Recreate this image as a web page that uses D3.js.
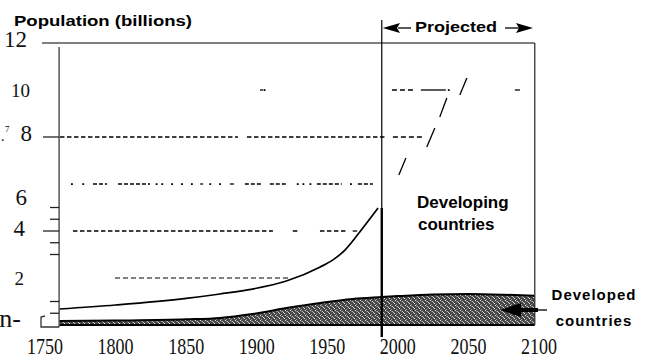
<!DOCTYPE html>
<html>
<head>
<meta charset="utf-8">
<script src="https://cdn.jsdelivr.net/npm/d3@7"></script>
<style>
  html, body { margin: 0; padding: 0; background: #fff; }
  svg { display: block; }
</style>
</head>
<body>
<div id="chart"></div>
<script>
// ---------------- data ----------------
const xTickYears = [1750, 1800, 1850, 1900, 1950, 2000, 2050, 2100];
const yTickValues = [0, 2, 4, 6, 8, 10, 12];
const yTickLabels = ["n-", "2", "4", "6", "8", "10", "12"];
const yMinorTicks = [0.5, 1, 3, 3.5, 4.5, 5];
const yMajorTicks = [4, 8];

// total population (developing + developed), historical part
const totalYears = [1760, 1800, 1850, 1874, 1897, 1921, 1945, 1954, 1962.5, 1973, 1986];
const totalValues = [0.68, 0.85, 1.13, 1.32, 1.53, 1.87, 2.47, 2.77, 3.19, 3.96, 4.98];

// developed countries (shaded band), historical + projected
const devYears = [1760, 1800, 1850, 1874, 1897, 1921, 1945, 1968, 1988.6, 2000, 2025, 2050, 2075, 2097];
const devValues = [0.17, 0.19, 0.24, 0.30, 0.47, 0.72, 0.94, 1.11, 1.19, 1.23, 1.30, 1.32, 1.29, 1.24];

const frameStartYear = 1760;
const projectionStartYear = 1988.6;
const frameEndYear = 2097;

// remnants of gridlines in the scan: [level, fromYear, toYear]
const fineDashFragments = [
  [8, 1760.6, 1886.7], [8, 1893.1, 1992.2],
  [4, 1769.8, 1911.5], [4, 1925.6, 1930.6], [4, 1944.8, 1963.9], [4, 1968, 1972]
];
const looseDashFragments = [[2, 1799.6, 1923.5]];
const coarseDashFragments = [
  [8, 1996.5, 2017.7], [10, 1995.8, 2011.3], [10, 2082.9, 2087.1], [10, 1902.3, 1904.5]
];
const solidFragments = [[10, 2016.3, 2034]];
const sixDashFragments = [
  [6, 1784, 1794], [6, 1801.7, 1824.4], [6, 1860, 1862], [6, 1881, 1884],
  [6, 1891.6, 1904.4], [6, 1909.3, 1922.1], [6, 1942.6, 1960.3], [6, 1971.7, 1982.3]
];
const dotMarks = [
  [6, 1769], [6, 1777], [6, 1829], [6, 1833], [6, 1840], [6, 1847], [6, 1854],
  [6, 1867], [6, 1874], [6, 1929], [6, 1933], [6, 1938], [6, 1966.7],
  [10, 2036], [10, 1905.5]
];
// slash-like strokes of the projected trace: [year0, value0, year1, value1]
const projectedTrace = [
  [2000.7, 6.38, 2005.7, 7.11],
  [2020.5, 7.57, 2026.2, 8.38],
  [2029.7, 8.85, 2034.7, 9.66],
  [2043.9, 9.79, 2048.9, 10.51]
];

// ---------------- layout ----------------
const W = 648, H = 360;
const x = d3.scaleLinear().domain([1750, 2100]).range([45, 539]);
const y = d3.scaleLinear().domain([0, 12]).range([325, 43]);
const labelNudge = {0: [-8, -7], 2: [-5, 0], 4: [-4, -3], 6: [-2, 13], 8: [3, -4], 10: [1, 0], 12: [-2, -4]};

const svg = d3.select("#chart").append("svg").attr("width", W).attr("height", H);
svg.append("rect").attr("width", W).attr("height", H).attr("fill", "#fff");

// halftone pattern
const defs = svg.append("defs");
const pat = defs.append("pattern").attr("id", "halftone")
  .attr("width", 5).attr("height", 5).attr("patternUnits", "userSpaceOnUse");
pat.append("rect").attr("width", 5).attr("height", 5).attr("fill", "#474747");
[[0,0,"#e0e0e0"],[2,1,"#bdbdbd"],[4,3,"#e8e8e8"],[1,4,"#9a9a9a"],[3,2,"#cfcfcf"],[1,1,"#777"]].forEach(p =>
  pat.append("rect").attr("x", p[0]).attr("y", p[1]).attr("width", 1).attr("height", 1).attr("fill", p[2]));

const serif = "'Liberation Serif', 'Times New Roman', serif";
const sans = "'Liberation Sans', Arial, Helvetica, sans-serif";

// developed band
const devData = devYears.map((d, i) => ({year: d, v: devValues[i]}));
const area = d3.area().x(d => x(d.year)).y0(y(0)).y1(d => y(d.v)).curve(d3.curveMonotoneX);
svg.append("path").datum(devData).attr("d", area).attr("fill", "url(#halftone)");
svg.append("path").datum(devData)
  .attr("d", d3.line().x(d => x(d.year)).y(d => y(d.v)).curve(d3.curveMonotoneX))
  .attr("fill", "none").attr("stroke", "#000").attr("stroke-width", 2);
svg.append("line").attr("x1", x(frameStartYear)).attr("x2", x(frameEndYear))
  .attr("y1", y(0)).attr("y2", y(0)).attr("stroke", "#000").attr("stroke-width", 2);

// total curve
const totData = totalYears.map((d, i) => ({year: d, v: totalValues[i]}));
svg.append("path").datum(totData)
  .attr("d", d3.line().x(d => x(d.year)).y(d => y(d.v)).curve(d3.curveMonotoneX))
  .attr("fill", "none").attr("stroke", "#000").attr("stroke-width", 1.7);

// gridline fragments
function frags(list, dash, width) {
  svg.append("g").selectAll("line").data(list).join("line")
    .attr("x1", d => x(d[1])).attr("x2", d => x(d[2]))
    .attr("y1", d => y(d[0])).attr("y2", d => y(d[0]))
    .attr("stroke", "#000").attr("stroke-width", width)
    .attr("stroke-dasharray", dash);
}
frags(fineDashFragments, "4.5 2.5", 1.3);
frags(looseDashFragments, "5 3", 1);
frags(coarseDashFragments, "5 3", 1.3);
frags(solidFragments, null, 1.3);
frags(sixDashFragments, "4 2", 1.3);
svg.append("g").selectAll("rect").data(dotMarks).join("rect")
  .attr("x", d => x(d[1]) - 0.8).attr("y", d => y(d[0]) - 0.8)
  .attr("width", 1.8).attr("height", 1.8).attr("fill", "#000");
svg.append("g").selectAll("line").data(projectedTrace).join("line")
  .attr("x1", d => x(d[0])).attr("y1", d => y(d[1]))
  .attr("x2", d => x(d[2])).attr("y2", d => y(d[3]))
  .attr("stroke", "#000").attr("stroke-width", 1.3);

// frame
svg.append("line").attr("x1", 42).attr("x2", x(frameEndYear))
  .attr("y1", y(12)).attr("y2", y(12)).attr("stroke", "#555").attr("stroke-width", 1.3);
svg.append("line").attr("x1", x(frameEndYear)).attr("x2", x(frameEndYear))
  .attr("y1", y(12)).attr("y2", y(0)).attr("stroke", "#333").attr("stroke-width", 1.3);
svg.append("line").attr("x1", x(frameStartYear)).attr("x2", x(frameStartYear))
  .attr("y1", 47).attr("y2", y(0) + 2).attr("stroke", "#555").attr("stroke-width", 1.5);

// divider
const xDiv = x(projectionStartYear);
svg.append("line").attr("x1", xDiv).attr("x2", xDiv).attr("y1", 20).attr("y2", 337)
  .attr("stroke", "#000").attr("stroke-width", 1.2);
svg.append("line").attr("x1", xDiv).attr("x2", xDiv).attr("y1", y(4.98)).attr("y2", 337)
  .attr("stroke", "#000").attr("stroke-width", 2.4);

// y ticks
const x0 = x(frameStartYear);
svg.append("g").selectAll("line").data(yMajorTicks).join("line")
  .attr("x1", 43).attr("x2", x0).attr("y1", d => y(d)).attr("y2", d => y(d))
  .attr("stroke", "#222").attr("stroke-width", 1.3);
svg.append("g").selectAll("line").data(yMinorTicks).join("line")
  .attr("x1", 50).attr("x2", x0).attr("y1", d => y(d)).attr("y2", d => y(d))
  .attr("stroke", "#222").attr("stroke-width", 1.3);
svg.append("path")
  .attr("d", `M45,316 L41,317 L41,327 L${x0},327`)
  .attr("fill", "none").attr("stroke", "#333").attr("stroke-width", 1.3);

// y labels
svg.append("g").selectAll("text").data(yTickValues).join("text")
  .attr("x", d => 29 + labelNudge[d][0])
  .attr("y", d => y(d) + labelNudge[d][1])
  .attr("dy", "0.35em")
  .attr("text-anchor", "end")
  .attr("font-family", serif)
  .attr("font-size", d => (d === 0 ? 26 : (d === 2 || d === 10 ? 19 : 23)))
  .attr("fill", "#111")
  .text((d, i) => yTickLabels[i]);
svg.append("text").attr("x", 1).attr("y", 141).attr("font-family", serif).attr("font-size", 14).text(".");
svg.append("text").attr("x", 5).attr("y", 132).attr("font-family", serif).attr("font-size", 9).text("7");

// x labels
svg.append("g").selectAll("text").data(xTickYears).join("text")
  .attr("x", d => x(d)).attr("y", 354)
  .attr("text-anchor", "middle")
  .attr("font-family", serif).attr("font-size", 23)
  .attr("textLength", 36).attr("lengthAdjust", "spacingAndGlyphs")
  .attr("fill", "#111")
  .text(d => d);

// titles
svg.append("text").attr("x", 14).attr("y", 26)
  .attr("font-family", sans).attr("font-weight", "bold").attr("font-size", 14)
  .attr("textLength", 178).attr("lengthAdjust", "spacingAndGlyphs")
  .text("Population  (billions)");

// Projected header with arrows
svg.append("text").attr("x", 415).attr("y", 32)
  .attr("font-family", sans).attr("font-weight", "bold").attr("font-size", 14)
  .attr("textLength", 82).attr("lengthAdjust", "spacingAndGlyphs")
  .text("Projected");
svg.append("line").attr("x1", 398).attr("x2", 411).attr("y1", 28).attr("y2", 28).attr("stroke", "#000").attr("stroke-width", 1.3);
svg.append("path").attr("d", `M${xDiv + 1},28 L400,23 L397,28 L400,33 Z`).attr("fill", "#000");
svg.append("line").attr("x1", 505).attr("x2", 519).attr("y1", 28).attr("y2", 28).attr("stroke", "#000").attr("stroke-width", 1.3);
svg.append("path").attr("d", `M533,28 L516,23 L519,28 L516,33 Z`).attr("fill", "#000");

// Developing countries
const devLab = svg.append("text").attr("font-family", sans).attr("font-weight", "bold").attr("font-size", 17).attr("fill", "#000");
devLab.append("tspan").attr("x", 417).attr("y", 208).text("Developing");
devLab.append("tspan").attr("x", 418).attr("y", 230).text("countries");

// Developed countries with arrow
const dl = svg.append("text").attr("font-family", sans).attr("font-weight", "bold").attr("font-size", 15)
  .attr("letter-spacing", 1).attr("text-anchor", "middle").attr("fill", "#000");
dl.append("tspan").attr("x", 594).attr("y", 300).text("Developed");
dl.append("tspan").attr("x", 594).attr("y", 326).text("countries");
svg.append("path").attr("d", "M500,310 L521,303 L521,308 L538,308 L538,312 L521,312 L521,317 Z").attr("fill", "#000");
svg.append("line").attr("x1", 536).attr("x2", 547).attr("y1", 310).attr("y2", 310).attr("stroke", "#000").attr("stroke-width", 1.3);
</script>
</body>
</html>
